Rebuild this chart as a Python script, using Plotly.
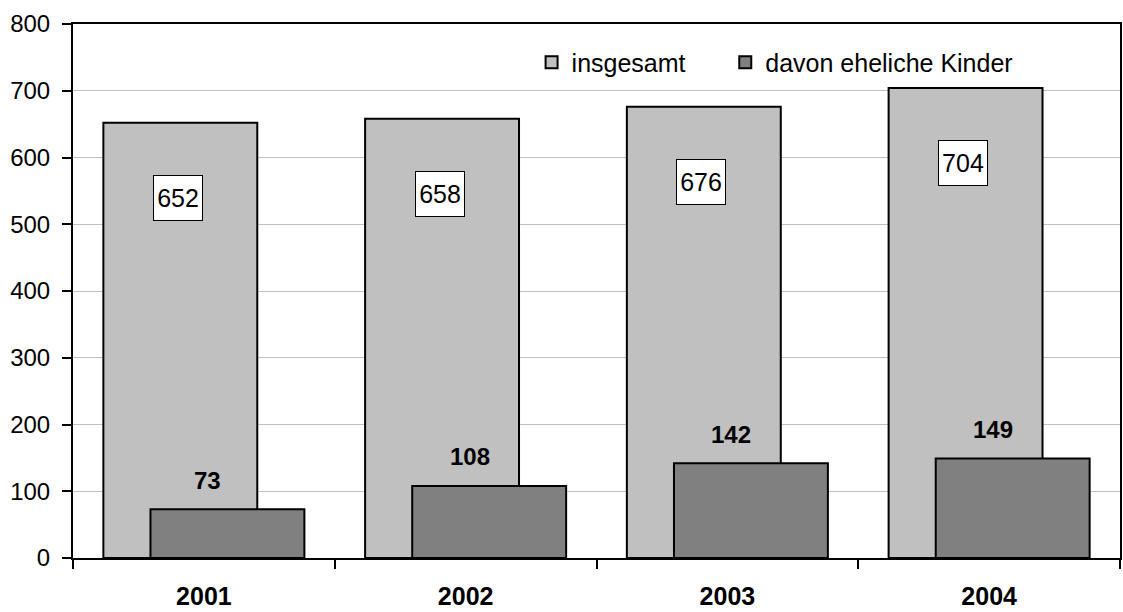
import plotly.graph_objects as go

years = ["2001", "2002", "2003", "2004"]
insgesamt = [652, 658, 676, 704]
eheliche = [73, 108, 142, 149]
y_ticks = [0, 100, 200, 300, 400, 500, 600, 700, 800]
series_names = ["insgesamt", "davon eheliche Kinder"]

FONT = "Liberation Sans, Arial, sans-serif"
BW = 0.588
SHIFT = 0.09

fig = go.Figure()
fig.add_trace(go.Bar(
    x=years, y=insgesamt, name=series_names[0] + "\u00a0" * 5,
    width=BW, offset=-BW / 2 - SHIFT,
    marker=dict(color="#C0C0C0", line=dict(color="black", width=2)),
))
fig.add_trace(go.Bar(
    x=years, y=eheliche, name=series_names[1],
    width=BW, offset=-BW / 2 + SHIFT,
    marker=dict(color="#808080", line=dict(color="black", width=2)),
))

for i, v in enumerate(insgesamt):
    fig.add_annotation(
        x=i, xshift=-26, y=v, yshift=-75, text=str(v), showarrow=False,
        font=dict(family=FONT, size=25, color="black"),
        bgcolor="white", bordercolor="black", borderwidth=1, borderpad=2,
        width=44, height=40,
    )
for i, v in enumerate(eheliche):
    fig.add_annotation(
        x=i, xshift=4, y=v, yshift=29, text="<b>%d</b>" % v, showarrow=False,
        font=dict(family=FONT, size=24, color="black"),
    )

fig.update_layout(
    width=1123, height=612,
    barmode="overlay",
    plot_bgcolor="white", paper_bgcolor="white",
    margin=dict(l=73, r=3, t=24, b=54, autoexpand=False),
    font=dict(family=FONT, size=24, color="black"),
    showlegend=True,
    legend=dict(orientation="h", x=0.438, xanchor="left", y=0.928, yanchor="middle",
                bgcolor="rgba(0,0,0,0)", font=dict(family=FONT, size=25),
                traceorder="normal"),
    xaxis=dict(
        type="category", tickson="boundaries", ticks="outside", ticklen=9,
        tickwidth=2, tickcolor="black", showline=True, linecolor="black",
        linewidth=2, mirror=True, showgrid=False, automargin=False,
        tickfont=dict(family=FONT, size=25, color="black", weight="bold"),
        ticklabelstandoff=15, range=[-0.5, 3.5],
    ),
    yaxis=dict(
        range=[0, 800], tickvals=y_ticks, ticks="outside", ticklen=9,
        tickwidth=2, tickcolor="black", showline=True, linecolor="black",
        linewidth=2, mirror=True, showgrid=True, gridcolor="#C0C0C0",
        gridwidth=1, zeroline=False, automargin=False,
        tickfont=dict(family=FONT, size=24, color="black"),
        ticklabelstandoff=7,
    ),
)

post = (
    "document.body.style.margin='0px';"
    "document.body.style.padding='0px';"
    "document.body.style.overflow='hidden';"
    "Plotly.relayout('{plot_id}', {width:1123, height:612});"
)
fig.write_html("out.html", post_script=post, config={"displayModeBar": False})
